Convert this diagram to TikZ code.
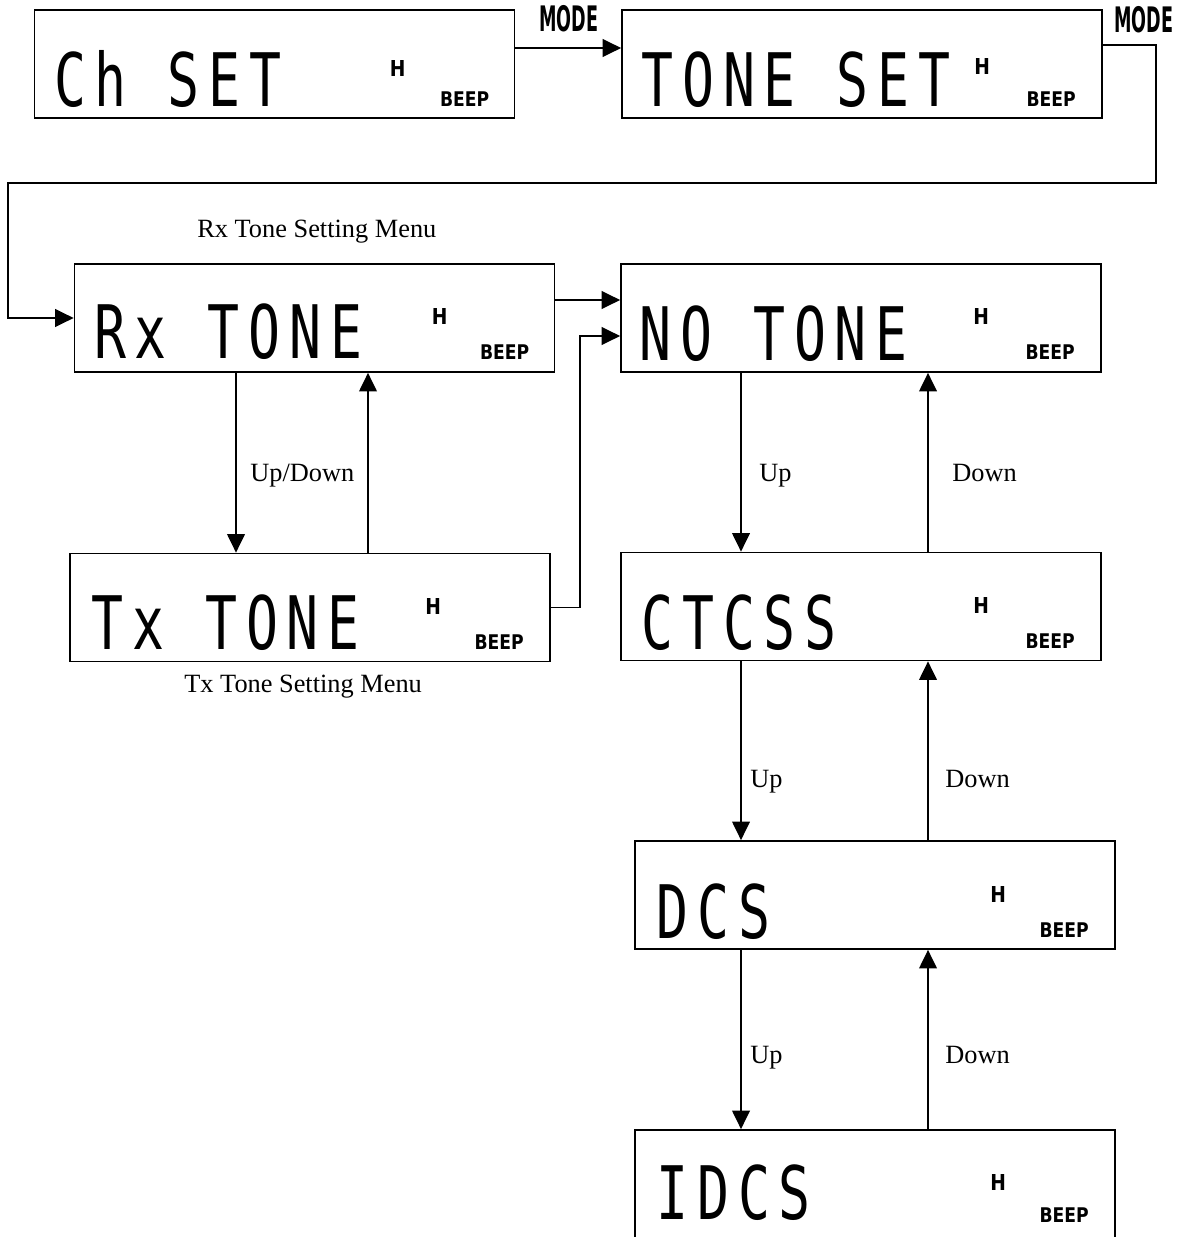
\documentclass[tikz,border=0pt]{standalone}
\usepackage{fontspec}
\setmainfont{Liberation Serif}
\newfontfamily\lcdfont[FakeStretch=0.72,LetterSpace=12]{DejaVu Sans Mono}
\newfontfamily\keyfont[FakeStretch=0.5]{DejaVu Sans}
\newfontfamily\tagfont[FakeStretch=0.85]{DejaVu Sans}
\usetikzlibrary{arrows.meta}

\tikzset{
  lcdbox/.style={draw, line width=1pt, minimum width=9.6cm, minimum height=2.16cm, inner sep=0pt},
  lcdtxt/.style={anchor=base west, inner sep=0pt, font=\lcdfont\fontsize{42}{42}\selectfont},
  hflag/.style={inner sep=0pt, font=\tagfont\bfseries\fontsize{12.5}{12.5}\selectfont},
  beep/.style={inner sep=0pt, font=\tagfont\bfseries\fontsize{11.5}{11.5}\selectfont},
  modekey/.style={inner sep=0pt, font=\keyfont\bfseries\fontsize{20}{20}\selectfont},
  flow/.style={line width=1pt, -{Triangle[length=10.5pt,width=10pt]}},
  note/.style={inner sep=0pt, anchor=base west, font=\fontsize{15}{18}\selectfont},
}

\begin{document}
\begin{tikzpicture}[x=0.02cm, y=-0.02cm]
  \useasboundingbox (0,0) rectangle (1185,1237);

  % display: Ch SET
  \node[lcdbox] (chset) at (274.5,64) {};
  \node[lcdtxt] (chsettxt) at ([shift={(20,43)}]chset.west) {Ch SET};
  \node[hflag] (chsetH) at ([shift={(364,4)}]chset.west) {H};
  \node[beep] (chsetB) at ([shift={(431,35)}]chset.west) {BEEP};

  % display: TONE SET
  \node[lcdbox] (toneset) at (862,64) {};
  \node[lcdtxt] (tonesettxt) at ([shift={(20,43)}]toneset.west) {TONE SET};
  \node[hflag] (tonesetH) at ([shift={(361,2)}]toneset.west) {H};
  \node[beep] (tonesetB) at ([shift={(430,35)}]toneset.west) {BEEP};

  % tasto MODE
  \node[modekey] (mode1) at (569,19) {MODE};
  \node[modekey] (mode2) at (1144,20) {MODE};

  % menu Rx
  \node[note] (rxmenu) at (197,237) {Rx Tone Setting Menu};
  \node[lcdbox] (rxtone) at (314.5,318) {};
  \node[lcdtxt] (rxtonetxt) at ([shift={(20,40)}]rxtone.west) {Rx TONE};
  \node[hflag] (rxtoneH) at ([shift={(366,-2)}]rxtone.west) {H};
  \node[beep] (rxtoneB) at ([shift={(431,34)}]rxtone.west) {BEEP};

  % menu Tx
  \node[lcdbox] (txtone) at (310,607.5) {};
  \node[lcdtxt] (txtonetxt) at ([shift={(22,42)}]txtone.west) {Tx TONE};
  \node[hflag] (txtoneH) at ([shift={(364,-1)}]txtone.west) {H};
  \node[beep] (txtoneB) at ([shift={(430,35)}]txtone.west) {BEEP};
  \node[note] (txmenu) at (184,692) {Tx Tone Setting Menu};

  % tipi di tono
  \node[lcdbox] (notone) at (861,318) {};
  \node[lcdtxt] (notonetxt) at ([shift={(19,42)}]notone.west) {NO TONE};
  \node[hflag] (notoneH) at ([shift={(361,-2)}]notone.west) {H};
  \node[beep] (notoneB) at ([shift={(430,34)}]notone.west) {BEEP};

  \node[lcdbox] (ctcss) at (861,606.5) {};
  \node[lcdtxt] (ctcsstxt) at ([shift={(21,43)}]ctcss.west) {CTCSS};
  \node[hflag] (ctcssH) at ([shift={(361,-1)}]ctcss.west) {H};
  \node[beep] (ctcssB) at ([shift={(430,35)}]ctcss.west) {BEEP};

  \node[lcdbox] (dcs) at (875,895) {};
  \node[lcdtxt] (dcstxt) at ([shift={(22,43)}]dcs.west) {DCS};
  \node[hflag] (dcsH) at ([shift={(364,-1)}]dcs.west) {H};
  \node[beep] (dcsB) at ([shift={(430,35)}]dcs.west) {BEEP};

  \node[lcdbox] (idcs) at (875,1184) {};
  \node[lcdtxt] (idcstxt) at ([shift={(22,35)}]idcs.west) {IDCS};
  \node[hflag] (idcsH) at ([shift={(364,-2)}]idcs.west) {H};
  \node[beep] (idcsB) at ([shift={(430,31)}]idcs.west) {BEEP};

  % punti di piega
  \coordinate (loopR) at (1156,183);
  \coordinate (loopL) at (8,183);
  \coordinate (txbend) at (580,0);
  \coordinate (rxdn) at (236,0);
  \coordinate (rxup) at (368,0);
  \coordinate (coldn) at (741,0);
  \coordinate (colup) at (928,0);

  % connessioni MODE
  \draw[flow] ([shift={(0,-16)}]chset.east) -- ([shift={(0,-16)}]toneset.west);
  \draw[flow] ([shift={(0,-19)}]toneset.east) -| (loopR) -- (loopL) |- (rxtone.west);

  % Rx/Tx verso la scelta del tono
  \draw[flow] ([shift={(0,-18)}]rxtone.east) -- ([shift={(0,-18)}]notone.west);
  \draw[flow] (txtone.east) -- (txtone.east -| txbend) |- ([shift={(0,18)}]notone.west);
  \draw[flow] (rxtone.south -| rxdn) -- (txtone.north -| rxdn);
  \draw[flow] (txtone.north -| rxup) -- (rxtone.south -| rxup);
  \node[note] (updown) at (250,481) {Up/Down};

  % Up / Down
  \draw[flow] (notone.south -| coldn) -- (ctcss.north -| coldn);
  \draw[flow] (ctcss.north -| colup) -- (notone.south -| colup);
  \node[note] (up1) at (759,481) {Up};
  \node[note] (down1) at (952,481) {Down};

  \draw[flow] (ctcss.south -| coldn) -- (dcs.north -| coldn);
  \draw[flow] (dcs.north -| colup) -- (ctcss.south -| colup);
  \node[note] (up2) at (750,787) {Up};
  \node[note] (down2) at (945,787) {Down};

  \draw[flow] (dcs.south -| coldn) -- (idcs.north -| coldn);
  \draw[flow] (idcs.north -| colup) -- (dcs.south -| colup);
  \node[note] (up3) at (750,1063) {Up};
  \node[note] (down3) at (945,1063) {Down};
\end{tikzpicture}
\end{document}
